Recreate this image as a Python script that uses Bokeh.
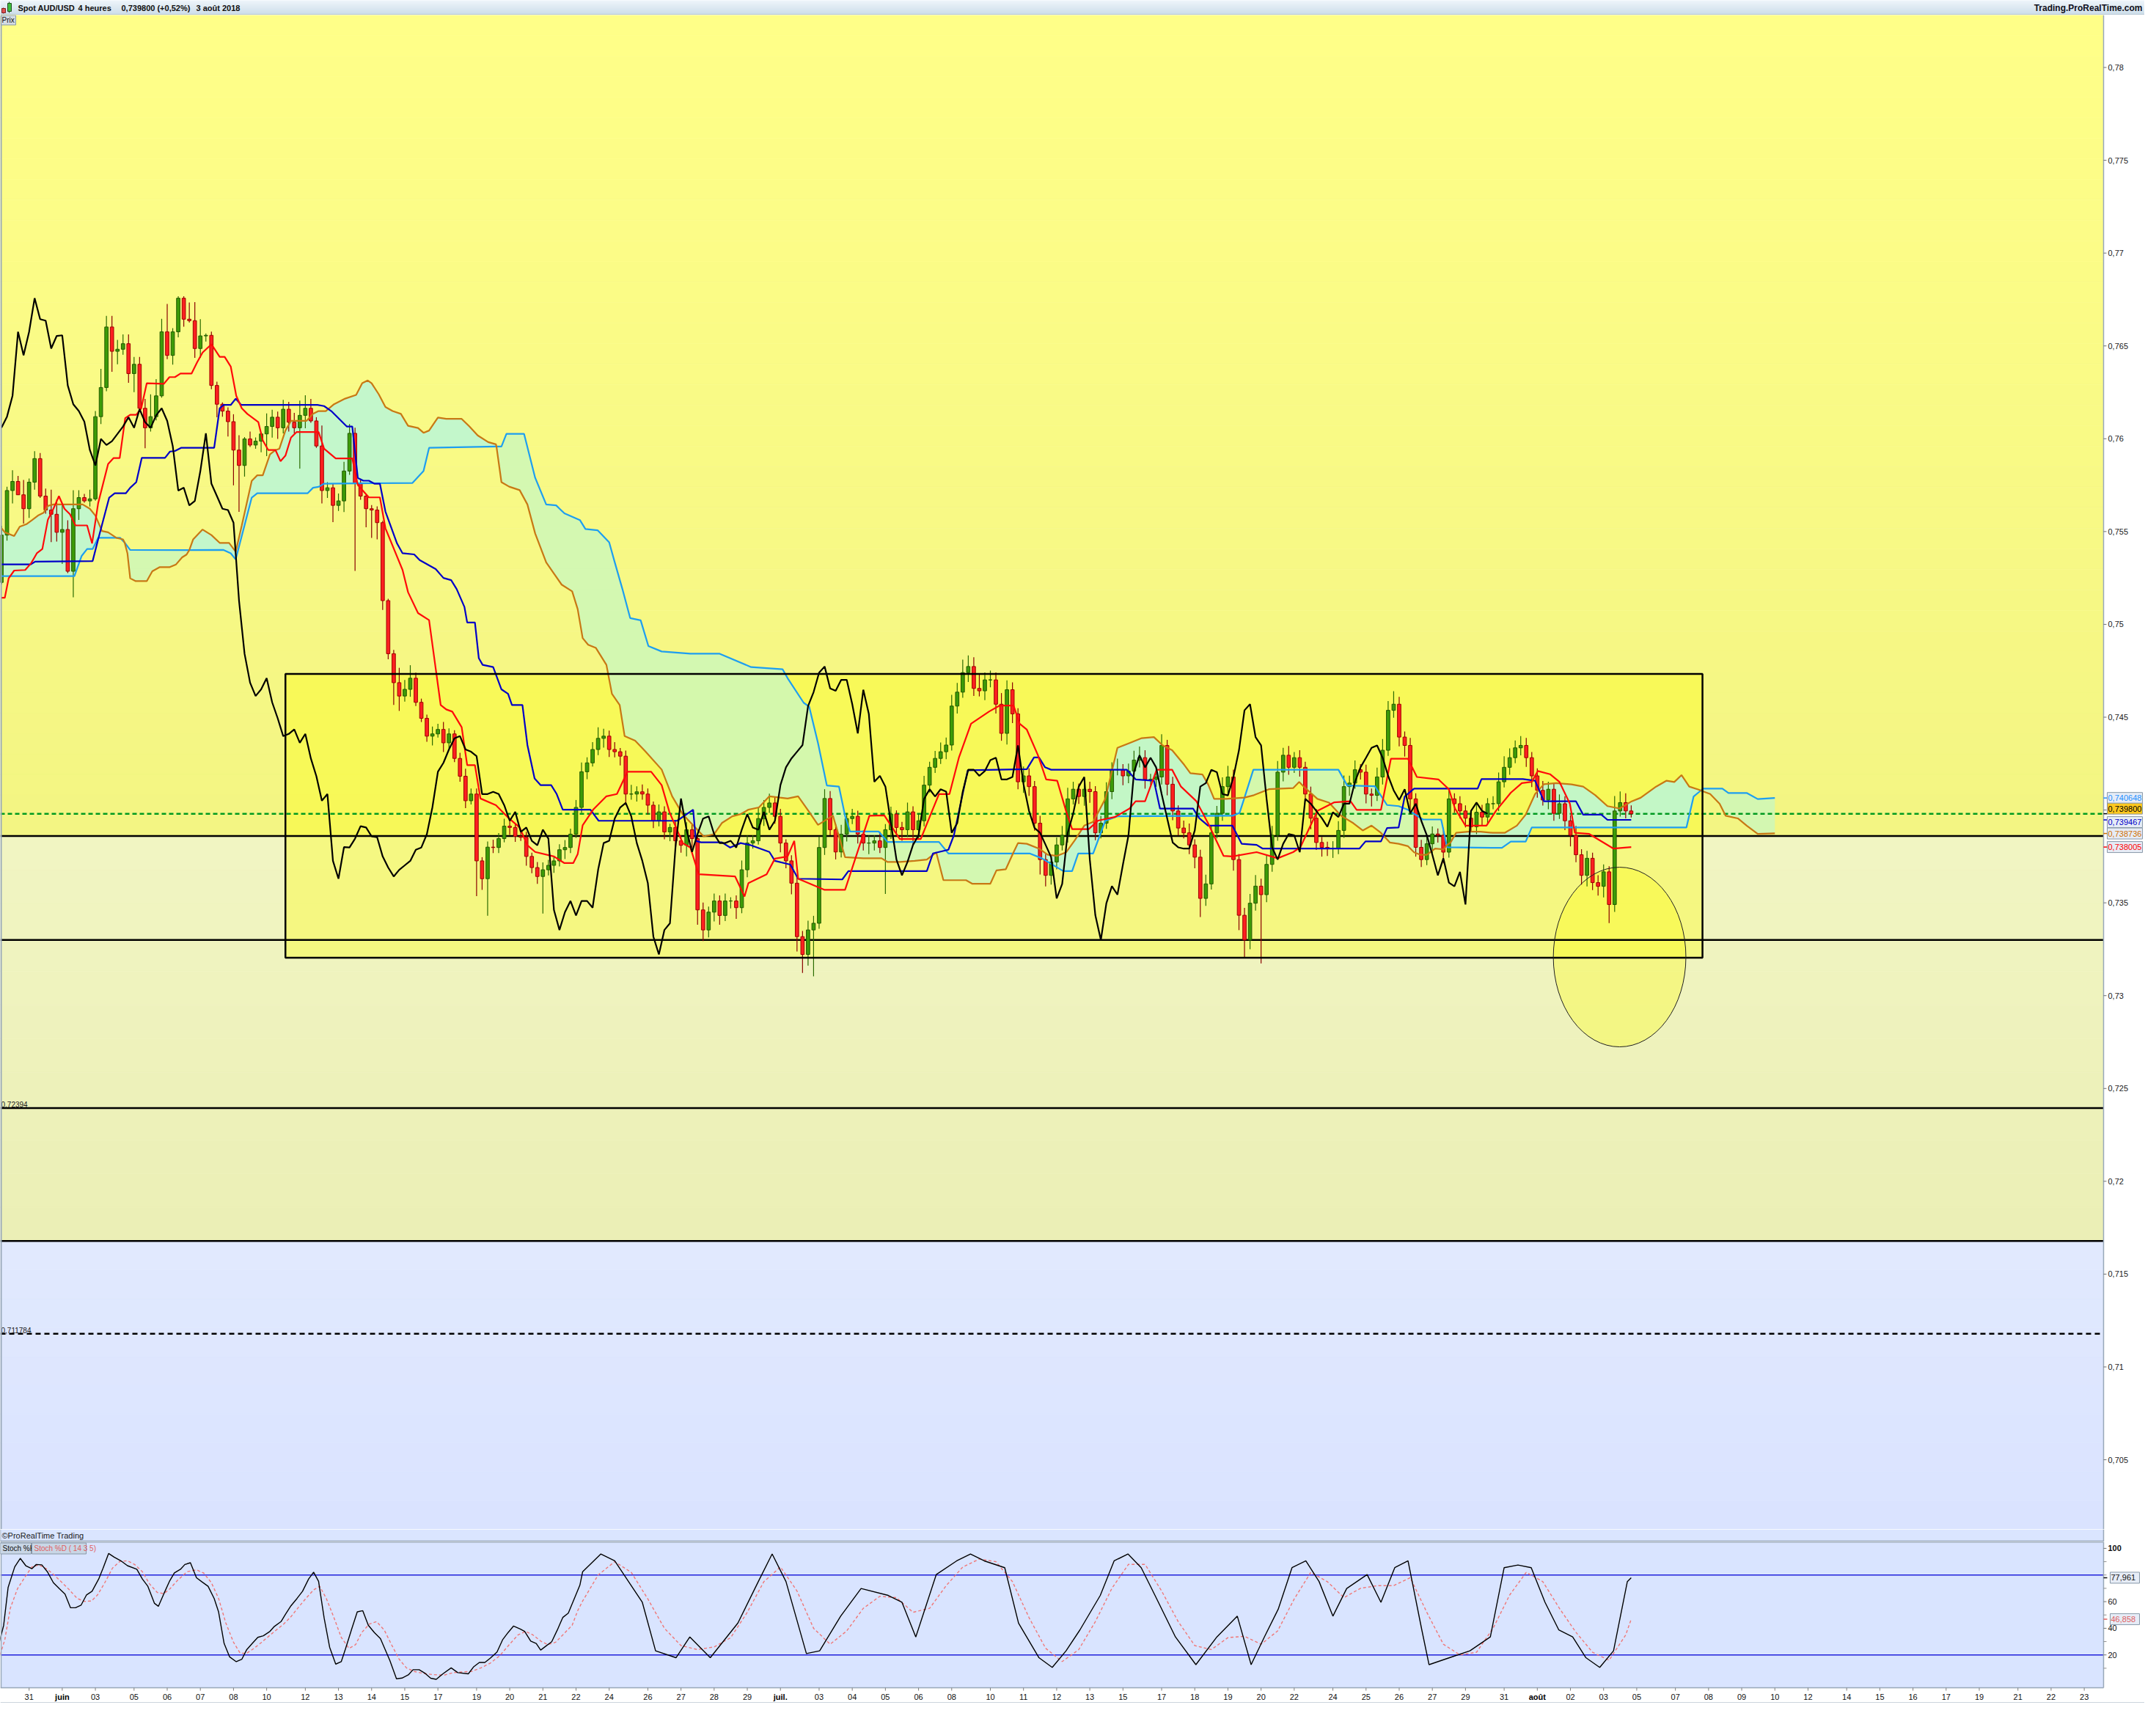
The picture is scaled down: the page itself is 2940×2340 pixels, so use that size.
import numpy as np
from bokeh.plotting import figure
from bokeh.models import Range1d
from bokeh.layouts import column
from bokeh.embed import file_html
from bokeh.resources import INLINE
from bokeh.core.properties import value

# ---------------- DATA ----------------
first_open = 0.75226
closes = [
 .75481,.75721,.75770,.75698,.75623,.75766,.75893,.75691,.75616,.75593,
 .75496,.75511,.75286,.75623,.75683,.75665,.75676,.76119,.76276,.76602,
 .76471,.76482,.76512,.76351,.76401,.76164,.76059,.76119,.76231,.76576,
 .76449,.76576,.76757,.76644,.76636,.76486,.76554,.76557,.76287,.76186,
 .76149,.76092,.75939,.75856,.75999,.75966,.75987,.76026,.76066,.76116,
 .76059,.76159,.76089,.76059,.76126,.76164,.76096,.75961,.75721,.75736,
 .75641,.75665,.75826,.76029,.75758,.75691,.75623,.75616,.75548,.75128,
 .74842,.74686,.74614,.74650,.74710,.74580,.74494,.74398,.74410,.74434,
 .74362,.74410,.74278,.74182,.74050,.74086,.73726,.73630,.73800,.73798,
 .73846,.73913,.73906,.73858,.73853,.73750,.73690,.73642,.73678,.73702,
 .73726,.73786,.73798,.73870,.74014,.74206,.74254,.74326,.74386,.74398,
 .74326,.74314,.74290,.74086,.74086,.74098,.74086,.74026,.73942,.73990,
 .73882,.73906,.73834,.73810,.73894,.73846,.73462,.73354,.73450,.73510,
 .73432,.73510,.73510,.73474,.73678,.73822,.73834,.73954,.74014,.74038,
 .73966,.73822,.73726,.73606,.73318,.73222,.73354,.73390,.73798,.74062,
 .73894,.73774,.73870,.73954,.73966,.73870,.73822,.73822,.73834,.73798,
 .73894,.73978,.73906,.73894,.73990,.73894,.73942,.74134,.74230,.74278,
 .74314,.74350,.74560,.74635,.74740,.74773,.74655,.74642,.74701,.74701,
 .74570,.74413,.74648,.74518,.74152,.74184,.74126,.73929,.73733,.73648,
 .73720,.73812,.73864,.74060,.74112,.74073,.74112,.74099,.73877,.73929,
 .74099,.74217,.74217,.74184,.74210,.74269,.74282,.74165,.74165,.74178,
 .74348,.74139,.73995,.73903,.73877,.73812,.73746,.73524,.73602,.73877,
 .73982,.74126,.74178,.73733,.73433,.73300,.73498,.73590,.73544,.73707,
 .73864,.74204,.74295,.74230,.74282,.74230,.74086,.73956,.73825,.73799,
 .73792,.73792,.73890,.74126,.74145,.74217,.74204,.74086,.74079,.74178,
 .74322,.74537,.74570,.74393,.74348,.74060,.73799,.73733,.73818,.73871,
 .73864,.73773,.74060,.74034,.73995,.73956,.73910,.73988,.73962,.74034,
 .74034,.74152,.74230,.74282,.74335,.74348,.74282,.74184,.74106,.74054,
 .74112,.73982,.74034,.73942,.73864,.73759,.73648,.73740,.73609,.73589,
 .73667,.73491,.73995,.74040,.73995,.73980]

# wick lengths above / below the body, in pips
up_wick = [5,2,6,3,8,2,4,3,4,11, 8,13,5,10,4,2,5,3,10,6, 6,5,5,5,4,4,5,12,9,7,
 15,2,1,1,9,10,9,1,2,2, 1,2,4,8,1,4,2,1,7,4, 3,5,4,5,8,7,5,2,11,3, 2,4,5,5,3,2,1,2,2,1,
 1,2,8,5,7,3,2,2,4,3, 4,3,2,3,4,3,3,2,3,4, 3,4,3,2,4,3,2,3,4,3, 2,3,4,3,4,5,3,4,6,4,
 3,4,2,3,5,3,4,3,2,4, 3,2,4,3,4,3,2,4,3,4, 3,4,2,3,5,4,3,6,4,5, 3,4,2,3,4,3,5,4,6,5,
 4,3,5,3,4,3,2,4,3,5, 3,4,2,3,5,3,4,5,3,4, 5,4,6,5,7,6,5,8,4,5, 4,6,5,4,3,5,4,3,4,3,
 3,4,5,6,4,3,5,4,3,4, 5,4,6,3,4,5,6,4,3,5, 6,3,4,3,4,5,3,4,5,4, 4,5,6,4,3,4,5,6,4,5,
 5,6,4,5,3,4,3,4,5,3, 3,4,5,6,4,5,3,4,3,5, 6,5,7,4,3,4,3,4,5,4, 3,4,5,3,4,3,4,5,4,3,
 4,5,6,5,4,5,4,3,4,5, 4,3,5,4,3,5,3,4,3,4, 4,3,8,6,5,3]
dn_wick = [1,3,7,0,8,5,4,1,2,15, 5,17,1,14,6,1,3,1,4,2, 11,7,3,5,10,2,11,2,2,1,
 2,5,3,4,1,5,5,3,2,7, 3,8,19,25,6,1,2,6,12,6, 6,3,5,3,22,7,1,1,7,4, 9,3,6,2,47,2,10,15,9,5,
 3,12,8,3,4,2,2,3,5,2, 5,3,2,3,4,2,19,6,20,3, 3,2,4,3,2,5,3,4,20,3, 4,3,5,3,2,3,4,2,3,5,
 4,3,5,6,3,4,3,5,4,3, 4,5,3,4,6,5,8,6,4,5, 5,3,4,6,3,4,3,2,4,3, 4,5,4,6,8,10,6,25,3,4,
 3,4,3,4,3,5,4,6,4,3, 25,5,4,6,4,8,5,3,4,3, 3,4,3,4,3,5,4,3,5,4, 5,4,6,5,4,6,5,4,8,6,
 5,4,3,4,3,4,5,6,4,3, 3,4,3,5,4,3,4,5,3,4, 4,6,5,4,3,5,6,10,4,3, 3,4,5,6,8,10,5,4,37,4,
 4,3,5,4,3,5,4,6,4,5, 4,5,3,4,5,3,4,5,6,3, 4,3,4,5,6,8,5,4,3,5, 4,6,3,5,4,5,3,4,5,4,
 3,4,3,4,3,4,5,6,4,3, 5,4,3,5,6,4,5,6,4,5, 6,10,4,3,4,2]

tenkan = [(0,.75143),(0.6,.75143),(1.3,.75248),(2.3,.7529),(4.3,.75293),(5.4,.75331),(6.4,.75383),(7.4,.75406),
 (8.4,.75564),(9.4,.75623),(10.4,.75691),(11.4,.75623),(12.4,.75593),(13.4,.75533),(15.5,.75533),(16.4,.75436),
 (17.5,.75653),(19.3,.75864),(20.3,.75896),(21.4,.75896),(22.4,.76111),(23.3,.76129),(24.4,.76129),(25.3,.76164),
 (26.3,.76299),(29.4,.76296),(30.4,.76332),(31.4,.76332),(32.4,.76351),(34.4,.76351),(35.4,.76411),(36.4,.76464),
 (38,.76509),(39.5,.76441),(40.4,.76441),(41.5,.76389),(42.5,.76231),(43.5,.76164),(44.5,.76134),(46.5,.76089),
 (47.3,.75991),(48.3,.75939),(49.6,.75939),(50.5,.75879),(51.4,.75909),(52.4,.76006),(53.4,.76036),(57.4,.76036),
 (58.4,.75946),(60.5,.75894),(63.5,.75894),(64.5,.75751),(66.5,.75684),(68.5,.75684),(69.5,.75518),(72.6,.75293),
 (73.6,.75173),(75.4,.75061),(77.4,.75023),(79.5,.74566),(80.5,.74542),(81.6,.7453),(83.3,.74446),(84.3,.74242),
 (85.7,.74242),(86.7,.74062),(89.5,.74026),(91.9,.73954),(93.8,.73906),(95.2,.7381),(96.6,.73774),(100,.7375),
 (101.9,.73714),(103.5,.73714),(104.3,.73762),(105.2,.73918),(107.1,.74002),(109.5,.74074),(111.4,.74086),
 (113.3,.74206),(117.6,.74206),(119.5,.74134),(120.9,.7399),(123.3,.73822),(124.7,.73798),(126.2,.73654),
 (132.8,.73642),(134.5,.73534),(135.2,.73606),(138.5,.73654),(140,.73738),(142.3,.7375),(143.5,.73834),
 (144.2,.7363),(149,.7357),(152.7,.7357),(157.1,.73969),(159.8,.73971),(162.6,.73844),(166.4,.73844),
 (168.1,.73969),(169.7,.74086),(171.6,.74086),(173.3,.74282),(175.5,.74465),(178.8,.74531),(180.7,.74563),
 (183.2,.74563),(184.3,.74465),(185.6,.74433),(187.6,.74296),(189.1,.74165),(191.1,.74158),(192.7,.73995),
 (193.8,.73897),(196.8,.73897),(198.5,.73943),(201.5,.73962),(204.2,.74008),(205.3,.74047),(207,.74047),
 (209.1,.74217),(211.9,.74217),(213.5,.74126),(216.3,.74047),(218.4,.73929),(221.2,.73753),(222.8,.7375),
 (227.2,.73773),(231,.7374),(233.8,.73773),(235.1,.73799),(238.2,.73995),(241.2,.74041),(244.2,.74047),
 (245.3,.74001),(249.7,.74001),(251.5,.74276),(254.6,.74276),(256.2,.74178),(260.1,.74165),(262,.74112),
 (263.1,.74008),(265,.73916),(268.8,.73916),(270.5,.73995),(273.2,.74093),(275.2,.74145),(277,.74152),
 (278.1,.7421),(280.3,.74193),(282,.74152),(283.9,.74034),(284.8,.73877),(287.4,.73871),(291.8,.73792),(295,.73800)]

kijun = [(0,.75323),(5.3,.75323),(6.1,.75338),(16.5,.75341),(17.5,.75458),(19.5,.75683),(20.5,.75706),(22.5,.75706),
 (23.3,.75736),(24.4,.75766),(25.4,.75897),(29.6,.75897),(30.5,.75931),(31.4,.75934),(32.5,.75951),(38.5,.75951),
 (39.5,.76164),(40.2,.76182),(41.5,.76182),(42.4,.76216),(43.4,.76182),(57.2,.76182),(58.4,.76176),(59.7,.76149),
 (62.5,.76066),(63.5,.76066),(64.5,.75789),(65.5,.75774),(66.5,.75774),(67.5,.75758),(68.5,.75758),(69.5,.75608),
 (70.6,.75518),(71.6,.75436),(72.6,.75383),(74.7,.75377),(75.7,.75346),(78.6,.75298),(80,.7525),(81.4,.75238),
 (82.4,.7519),(83.8,.75094),(84.3,.7501),(85.7,.7501),(86.4,.74818),(87.1,.74782),(89,.7477),(90.5,.7465),
 (91.7,.74626),(92.4,.74566),(94.3,.74566),(95.2,.7435),(96.5,.7417),(97.6,.74134),(99.5,.74134),(100.5,.74086),
 (101.6,.74002),(106.6,.74002),(108.1,.73942),(122.3,.73942),(125.2,.74002),(125.7,.73834),(126.6,.73826),
 (130.4,.73826),(131.9,.73798),(133.8,.73822),(135.7,.7381),(139,.73774),(140,.73726),(142.8,.73706),
 (144.2,.7363),(152.2,.73626),(153.3,.73671),(167.5,.73671),(168.6,.73766),(171.4,.73786),(172.4,.73864),
 (174.9,.74214),(185.6,.7422),(186.9,.74283),(187.8,.74283),(188.9,.7423),(190,.74217),(203.7,.74217),
 (205.3,.74165),(208.6,.74158),(209.7,.74008),(215.7,.74008),(216.8,.73956),(218.4,.73916),(222.8,.73916),
 (224.5,.73818),(227.2,.73812),(228.3,.73792),(245.8,.73792),(246.9,.73831),(249.7,.73831),(250.8,.73903),
 (252.9,.73906),(254,.74073),(255.7,.74115),(267.2,.74115),(267.9,.74167),(275.4,.74167),(277.6,.74158),
 (279.2,.74047),(285,.74047),(286.3,.73975),(289.6,.73975),(290.7,.73947),(295,.73947)]

senkou_a = [(0,.75518),(0.6,.75496),(2.3,.75476),(3.3,.75526),(4.6,.75541),(5.6,.75563),(6.6,.75586),(7.6,.75601),
 (8.4,.75638),(9.4,.75646),(14.7,.75646),(16,.75623),(17,.75586),(18.2,.75503),(19.3,.75496),(20.8,.75466),
 (22,.75458),(22.3,.7544),(22.8,.75383),(23.3,.75248),(24.3,.75233),(26.3,.75233),(27.3,.75286),(28.6,.75308),
 (30.4,.75308),(31.6,.75323),(32.7,.75361),(33.5,.75376),(34.0,.7540),(34.7,.75458),(36.4,.75511),(38,.75481),
 (39.5,.75439),(41.2,.75439),(42.4,.75391),(43.5,.75533),(45.3,.75773),(46.3,.75803),(47.3,.75803),(48.6,.75916),
 (49.6,.75939),(50.3,.75946),(51.4,.76044),(52.4,.76096),(55.2,.76096),(56.4,.76134),(57.4,.76149),(58.7,.76149),
 (60.2,.76186),(62.2,.76216),(64.2,.76236),(65.3,.76299),(66.3,.76314),(67,.76299),(68.3,.76239),(69.5,.76171),
 (70.8,.76149),(72.3,.76134),(73.6,.7607),(75.4,.76058),(76.4,.76032),(77.4,.76044),(79,.76114),(80.5,.76107),
 (83.3,.76107),(84.7,.76066),(86.2,.76018),(88.1,.75982),(89.5,.7597),(89.6,.75958),(90.5,.75766),(91.9,.75742),
 (93.8,.75723),(95.2,.75646),(96.6,.7549),(98.6,.75334),(100,.75274),(101.4,.75214),(103.3,.75178),(104.3,.75082),
 (105.2,.74926),(106.2,.7489),(107.6,.74873),(109.5,.74782),(110.5,.74626),(111.9,.74566),(112.8,.74398),
 (114.7,.74374),(116.6,.74314),(119.5,.74218),(121.4,.74074),(123.3,.73978),(127.1,.73858),(129,.7387),
 (130.4,.7393),(132.3,.73966),(133.8,.73978),(135.2,.74002),(137.1,.74014),(139,.74074),(142.3,.74062),
 (144.2,.74074),(146.2,.7399),(147.8,.7392),(150.5,.7397),(152.7,.73746),(156,.7374),(159.3,.7374),(160.4,.7372),
 (162.6,.7372),(165.3,.73726),(167.5,.73733),(169.2,.73772),(170.5,.73622),(174.6,.73622),(175.7,.73603),
 (179,.73603),(180.1,.73675),(181.8,.73681),(183.1,.73766),(184,.73822),(185.6,.73818),(187.8,.73792),
 (189.4,.73759),(191.1,.73753),(192.7,.73772),(194.3,.73838),(196,.73916),(197.6,.73936),(199.8,.7406),
 (202,.74335),(204.2,.74361),(206.4,.74387),(208.6,.74393),(210.2,.74348),(211.9,.74322),(214.1,.74243),
 (215.2,.74198),(217.4,.74191),(218.4,.74139),(219.5,.7406),(221.7,.7406),(225,.74067),(226.7,.7408),
 (229.4,.74112),(233.8,.74118),(234.9,.74151),(236,.74118),(238.2,.7406),(240.3,.7404),(242.5,.73969),
 (244.7,.73929),(246.4,.7389),(248,.73916),(249.7,.73877),(251.3,.73825),(252.9,.73818),(254.6,.73805),
 (255.7,.73772),(256.8,.73759),(258,.73759),(259.5,.73792),(261.1,.73788),(261.6,.7381),(262.3,.73825),
 (263.3,.73877),(265.5,.73883),(267.7,.73883),(269.9,.73877),(272.1,.73877),(274.3,.73916),(275.9,.73975),
 (277.6,.74086),(279.2,.74139),(281.4,.74145),(284.2,.74138),(286.3,.74126),(288.5,.7408),(290.7,.74021),
 (292.9,.74008),(295.1,.74047),(296.7,.74066),(299.5,.74126),(301.4,.74158),(302.8,.74151),(304.1,.74188),
 (305.5,.74126),(307.2,.7411),(307.6,.74105),(309.3,.74086),(311,.74034),(312.1,.73969),(314.3,.73955),
 (315.9,.73916),(317.9,.73871),(321,.73874)]

senkou_b = [(0,.7526),(13.2,.7526),(14.5,.75368),(15.5,.75406),(16.5,.75406),(17.5,.75466),(21.5,.75466),
 (22.3,.7544),(23.3,.75401),(34.0,.7540),(40.2,.75401),(41.5,.75383),(42.4,.7535),(45.3,.75683),(46.3,.75706),
 (55.4,.75706),(56.4,.75736),(57.4,.75741),(58.4,.75758),(74.4,.75762),(76.4,.75826),(77.4,.75951),(89.6,.75958),
 (90.5,.75958),(91.4,.76026),(94.6,.76026),(96.6,.7579),(98.6,.75646),(100.4,.75641),(101.9,.75598),
 (104.7,.75562),(105.7,.75514),(107.9,.75507),(110,.75442),(110.9,.75346),(112.4,.7519),(113.8,.75034),
 (115.7,.75022),(117.1,.74883),(119.5,.74854),(124.7,.74842),(130,.74842),(135.7,.7477),(141.4,.74758),
 (142.3,.7471),(145.2,.74578),(146.2,.74557),(147.8,.74361),(149.4,.74132),(151.6,.74126),(152.7,.73969),
 (153.6,.73884),(158.8,.73884),(160.4,.73828),(169.7,.73828),(171.4,.73766),(183.1,.73766),(186.1,.73766),
 (188.3,.7374),(192.2,.73671),(193.8,.73671),(194.9,.73766),(197.6,.73766),(199.8,.73942),(202,.73966),
 (222.8,.73969),(224.1,.73984),(225,.74067),(226.6,.74217),(242,.74217),(243.6,.74132),(248.6,.74128),
 (250.8,.74027),(252.9,.74021),(254.6,.74001),(257.3,.73949),(260.6,.73949),(261.6,.7381),(261.7,.73799),
 (271.6,.73796),(273.2,.7383),(275.9,.7383),(277,.73906),(305,.73906),(306.3,.74073),(307.6,.74105),
 (308,.74115),(311.5,.74115),(312.6,.74092),(315.9,.74092),(317.9,.74059),(321,.74065)]

# where the two cloud lines cross, and which one is on top in between
cloud_cross = [0, 22.3, 34.0, 89.6, 183.1, 225.0, 261.6, 307.6, 321]
cloud_a_on_top = [True, False, True, False, True, False, True, False]

stoch_k = [(-0.5,27.7),(0.4,42.3),(1.2,70.6),(2.4,86.1),(3.4,92.5),(4.4,87.0),(5.5,84.7),(6.3,87.9),(7.3,87.6),
 (8.3,82.5),(9.4,74.2),(10.5,69.7),(11.5,65.7),(12.5,55.4),(13.4,55.4),(14.4,57.3),(15.4,65.1),(16.4,67.8),
 (17.6,77.0),(18.4,85.2),(19.4,96.2),(20.4,93.4),(21.6,90.7),(22.8,87.0),(24.5,84.3),(25.5,77.0),(26.5,71.5),
 (27.7,58.7),(28.4,56.5),(29.4,66.0),(30.4,75.2),(31.3,81.6),(32.4,84.3),(33.2,87.9),(34.2,89.2),(35.3,77.9),
 (36.3,74.8),(37.4,71.5),(38.5,62.4),(39.3,52.3),(40.3,28.6),(41.3,18.5),(42.5,14.9),(43.5,16.7),(44.4,24.0),
 (45.4,28.6),(46.4,33.2),(47.4,34.4),(48.6,37.7),(49.4,41.4),(50.6,45.0),(51.4,50.5),(52.4,56.9),(53.5,62.4),
 (54.5,67.8),(55.6,77.0),(56.5,82.1),(57.4,75.2),(58.4,47.8),(59.4,25.8),(60.5,13.1),(61.5,14.9),(62.3,24.9),
 (63.4,39.5),(64.4,52.3),(65.4,53.2),(66.4,42.3),(67.5,36.8),(68.6,32.2),(70.3,15.8),(71.5,2.1),(72.5,2.6),
 (73.7,5.2),(74.5,8.9),(75.6,8.9),(76.7,6.1),(77.7,2.5),(78.7,1.7),(79.9,5.8),(81.4,10.3),(82.6,6.7),(84.5,5.8),
 (85.5,11.2),(86.5,14.3),(87.5,14.3),(88.5,17.6),(89.7,22.2),(90.7,31.3),(91.7,36.8),(92.7,41.7),(93.9,39.5),
 (94.7,37.7),(95.8,30.4),(96.8,28.6),(97.6,23.6),(98.6,26.8),(99.6,29.9),(100.6,38.6),(101.6,48.1),(102.6,51.4),
 (103.7,62.4),(104.7,72.4),(105.2,82.5),(108.5,95.8),(111,90.6),(116,59.5),(118.4,23.1),(122.1,17.9),
 (124.6,33.5),(128.3,17.9),(133.3,43.9),(137,75.1),(139.5,95.8),(142,75.1),(145.7,21.0),(148.1,23.1),
 (151.9,49.1),(155.6,69.9),(160.5,64.7),(163,59.5),(165.5,33.5),(169.2,80.3),(172.9,90.6),(175.4,95.8),
 (177.9,90.6),(181.6,85.5),(184.1,43.9),(187.8,17.9),(190.2,10.6),(192.7,23.1),(195.2,38.7),(198.9,64.7),
 (201.4,90.6),(203.9,95.8),(206.3,85.5),(208.8,64.7),(212.5,33.5),(216.2,12.7),(220,33.5),(223.7,49.1),
 (226.2,12.7),(228.6,33.5),(231.1,54.3),(233.6,85.5),(236.1,90.6),(238.5,75.1),(241,49.1),(243.5,69.9),
 (247.2,80.3),(249.7,59.5),(252.2,85.5),(254.6,90.6),(257.1,38.7),(258.4,12.7),(262.1,17.9),(265.8,23.1),
 (269.5,33.5),(272,85.5),(274.5,87.5),(276.9,85.5),(279.4,59.5),(281.9,38.7),(284.4,33.5),(286.8,17.9),
 (289.3,10.6),(291.8,23.1),(294.3,75.1),(295,77.961)]

stoch_d = [(-0.5,16.7),(0.6,31.3),(1.6,55.1),(2.9,69.7),(4.3,78.8),(5.5,86.1),(6.8,87.6),(8.3,84.3),(9.6,79.7),
 (11,74.2),(12.3,68.8),(13.7,62.4),(15,60.2),(16.3,60.5),(17.4,65.1),(18.7,74.2),(20.1,85.2),(21.4,90.1),
 (22.8,90.7),(24.1,87.9),(25.5,82.5),(26.8,73.3),(28.2,66.9),(29.4,66.0),(30.5,69.7),(31.9,76.1),(33.6,82.5),
 (35.3,83.9),(36.6,81.5),(38,74.2),(39.3,62.4),(40.6,44.1),(42,29.5),(43.2,21.3),(44.4,21.3),(45.7,24.9),
 (47.1,29.5),(48.4,34.1),(49.7,38.6),(51.1,43.2),(52.4,48.7),(53.8,56.0),(55.1,62.4),(56.5,68.8),(57.6,71.5),
 (58.8,62.4),(60.2,47.8),(61.5,33.2),(62.9,24.9),(64.1,27.7),(65.2,36.8),(66.6,43.2),(67.9,45.0),(69.3,38.6),
 (70.6,27.7),(72,16.7),(73.3,10.3),(74.7,7.6),(76.4,6.1),(78.1,5.2),(80.1,4.8),(81.8,6.7),(83.4,7.2),(85.1,7.6),
 (86.8,10.3),(88.5,13.9),(90.2,19.4),(91.9,27.7),(93.5,35.0),(94.9,37.7),(96.2,35.0),(97.6,30.4),(98.9,27.7),
 (100.3,29.5),(101.6,35.0),(103.3,42.3),(104.3,53.2),(105.2,60.5),(108,80),(111,90),(114,82),(117,62),(120,40),
 (123,27),(126,24),(129,26),(132,33),(135,52),(138,75),(141,86),(144,68),(147,40),(150,28),(153,38),(156,55),
 (159,64),(162,63),(165,52),(168,55),(171,72),(174,86),(177,92),(180,90),(183,75),(186,48),(189,25),(192,15),
 (195,24),(198,45),(201,70),(204,88),(207,88),(210,68),(213,45),(216,27),(219,24),(222,33),(225,34),(228,28),
 (231,38),(234,62),(237,82),(240,75),(243,63),(246,70),(249,72),(252,72),(255,78),(258,52),(261,28),(264,20),
 (267,22),(270,40),(273,65),(276,82),(279,75),(282,55),(285,37),(288,22),(291,16),(294,35),(295,46.858)]

date_tick_idx = [5,11,17,24,30,36,42,48,55,61,67,73,79,86,92,98,104,110,117,123,129,135,141,148,154,160,166,
 172,179,185,191,197,203,210,216,222,228,234,241,247,253,259,265,272,278,284,290,296,303,309,315,321,327,334,
 340,346,352,358,365,371,377]
date_labels = ["31","juin","03","05","06","07","08","10","12","13","14","15","17","19","20","21","22","24","26",
 "27","28","29","juil.","03","04","05","06","08","10","11","12","13","15","17","18","19","20","22","24","25",
 "26","27","29","31","août","02","03","05","07","08","09","10","12","14","15","16","17","19","21","22","23"]
month_labels = {"juin", "juil.", "août"}

price_ticks = [0.705,0.71,0.715,0.72,0.725,0.73,0.735,0.74,0.745,0.75,0.755,0.76,0.765,0.77,0.775,0.78]
stoch_major = [20, 40, 60, 100]
stoch_minor = [10, 30, 50, 70, 80, 90]
zone_top = 0.7386      # black line: yellow zone above
zone_mid = 0.7330      # black line
level_1 = 0.72394
zone_low = 0.71678     # black line: blue zone below
level_2 = 0.711784     # dashed
last_price = 0.7398
box_rect = dict(left=51.4, right=307.9, bottom=0.73204, top=0.74733)
circle = dict(x=292.9, y=0.73208, w=24.0, h=0.00969)
tags = [("0,740648", 0.740648, "#1E90FF", "#E6ECF6", 0), ("0,739800", 0.7398, "#000000", "#FFC81E", 7),
        ("0,739467", 0.739467, "#0000C8", "#E6ECF6", -3), ("0,738736", 0.738736, "#D07000", "#E6ECF6", 0),
        ("0,738005", 0.738005, "#FF0000", "#E6ECF6", 0)]
stoch_tags = [("77,961", 77.961, "#101010"), ("46,858", 46.858, "#E06060")]

# ---------------- GEOMETRY / STYLE ----------------
FONT = "Liberation Sans"
NARROW = "'Liberation Sans Narrow', 'Liberation Sans', sans-serif"
PW = 2868            # plot area width (px)
AXW = 56             # right axis area (px)
TW = PW + AXW
X0, X1 = -0.2, 380.5
BPX = PW / (X1 - X0)
XE = X1 + AXW / BPX
def dx(px):
    return px / BPX

MH = 2065
YB, YT = 0.70125, 0.782824
def dym(px):
    return px * (YT - YB) / MH

SH = 199             # stoch plot height
DB = 21              # date band height
SB, ST = -4.66, 104.9
SUPX = (ST - SB) / SH
SBE = SB - DB * SUPX
def dys(px):
    return px * SUPX

AXC = "#98A8B8"

def mix(c0, c1, t):
    a = [int(c0[i:i + 2], 16) for i in (1, 3, 5)]
    b = [int(c1[i:i + 2], 16) for i in (1, 3, 5)]
    return "#%02x%02x%02x" % tuple(int(round(a[k] + (b[k] - a[k]) * t)) for k in range(3))

def gradient(fig, y0, y1, c_top, c_bot, n, x0, x1):
    bots, tops, cols = [], [], []
    for k in range(n):
        tops.append(y1 - k * (y1 - y0) / n)
        bots.append(y1 - (k + 1) * (y1 - y0) / n)
        cols.append(mix(c_top, c_bot, (k + 0.5) / n))
    fig.quad(left=[x0] * n, right=[x1] * n, bottom=bots, top=tops, fill_color=cols, line_color=cols, line_width=0.6)

def txt(fig, x, y, t, size="11px", color="#202020", align="left", base="middle", style="normal", font=FONT):
    fig.text(x=x if isinstance(x, list) else [x], y=y if isinstance(y, list) else [y],
             text=t if isinstance(t, list) else [t], text_font=value(font), text_font_size=size,
             text_color=color, text_align=align, text_baseline=base, text_font_style=style)

def bare(fig):
    fig.axis.visible = False
    fig.grid.visible = False

# ---------------- HEADER ----------------
hdr = figure(frame_width=TW, frame_height=20, min_border=0, x_range=Range1d(0, TW), y_range=Range1d(0, 20),
             output_backend="svg", toolbar_location=None, outline_line_color=None,
             x_axis_location=None, y_axis_location=None)
bare(hdr)
gradient(hdr, 0, 20, "#EEF5FB", "#CBDCE8", 10, 0, TW)
hdr.segment(x0=[4, 12], y0=[2, 3], x1=[4, 12], y1=[10, 18], line_color=["#802020", "#205020"], line_width=1)
hdr.quad(left=[2, 10], right=[7, 15], bottom=[3, 5], top=[9, 16], fill_color=["#E05050", "#40C040"],
         line_color=["#802020", "#205020"])
for x, t in [(24, "Spot AUD/USD"), (106, "4 heures"), (165, "0,739800 (+0,52%)"), (267, "3 août 2018")]:
    txt(hdr, x, 10, t, size="11px", color="#101010", style="bold")
txt(hdr, TW - 3, 10, "Trading.ProRealTime.com", size="12px", color="#101020", align="right", style="bold")
hdr.segment(x0=[0], y0=[0.4], x1=[TW], y1=[0.4], line_color=AXC, line_width=1)

# ---------------- MAIN PRICE PANEL ----------------
p = figure(frame_width=TW, frame_height=MH, min_border=0, x_range=Range1d(X0, XE), y_range=Range1d(YB, YT),
           x_axis_location=None, y_axis_location=None, output_backend="svg", toolbar_location=None,
           outline_line_color=None, background_fill_color="white")
bare(p)
gradient(p, zone_top, YT, "#FFFF88", "#F3F583", 40, X0, X1)
gradient(p, zone_low, zone_top, "#F1F5C3", "#EBEFB5", 12, X0, X1)
gradient(p, YB, zone_low, "#E1E9FE", "#DAE3FF", 10, X0, X1)

# highlighted rectangle and circle (fills)
p.quad(left=[box_rect["left"]], right=[box_rect["right"]], bottom=[box_rect["bottom"]], top=[box_rect["top"]],
       fill_color="#FFFF00", fill_alpha=0.33, line_color=None)
p.ellipse(x=[circle["x"]], y=[circle["y"]], width=[circle["w"]], height=[circle["h"]],
          fill_color="#FFFF00", fill_alpha=0.30, line_color=None)

# Ichimoku cloud
ax = [v[0] for v in senkou_a]; ay = [v[1] for v in senkou_a]
bx = [v[0] for v in senkou_b]; by = [v[1] for v in senkou_b]
xs_list, ys_list, cols = [], [], []
for k in range(len(cloud_cross) - 1):
    c0, c1 = cloud_cross[k], cloud_cross[k + 1]
    pa = [(x, y) for x, y in zip(ax, ay) if c0 <= x <= c1]
    pb = [(x, y) for x, y in zip(bx, by) if c0 <= x <= c1][::-1]
    poly = pa + pb
    xs_list.append([q[0] for q in poly]); ys_list.append([q[1] for q in poly])
    cols.append("#BDF6D3" if cloud_a_on_top[k] else "#CFF7B6")
p.patches(xs=xs_list, ys=ys_list, fill_color=cols, fill_alpha=0.9, line_color=None)

# horizontal levels
lv = [zone_top, zone_mid, level_1, zone_low]
p.segment(x0=[X0] * 4, y0=lv, x1=[X1] * 4, y1=lv, line_color="black", line_width=2.5)
p.segment(x0=[X0], y0=[level_2], x1=[X1], y1=[level_2], line_color="black", line_width=2.5, line_dash="7 5")
p.segment(x0=[X0], y0=[last_price], x1=[X1], y1=[last_price], line_color="#009A20", line_width=2.5, line_dash="6 4")
txt(p, X0 + dx(1), level_1 + dym(1), "0,72394", size="10px", base="bottom")
txt(p, X0 + dx(1), level_2 + dym(1), "0,711784", size="10px", base="bottom")

# candles
idx = np.arange(len(closes))
opens = [first_open] + closes[:-1]
highs = [max(o, c) + u * 1e-4 for o, c, u in zip(opens, closes, up_wick)]
lows = [min(o, c) - d * 1e-4 for o, c, d in zip(opens, closes, dn_wick)]
up = [c >= o for o, c in zip(opens, closes)]
wick_col = ["#2A6A00" if u else "#8A0000" for u in up]
body_col = ["#3C9B08" if u else "#FF2020" for u in up]
edge_col = ["#235A00" if u else "#A00000" for u in up]
p.segment(x0=idx, y0=lows, x1=idx, y1=highs, line_color=wick_col, line_width=1.2)
p.vbar(x=idx, width=0.62, bottom=[min(o, c) for o, c in zip(opens, closes)],
       top=[max(o, c) for o, c in zip(opens, closes)], fill_color=body_col, line_color=edge_col, line_width=1)

# Ichimoku lines
p.line([v[0] for v in senkou_b], [v[1] for v in senkou_b], line_color="#1E9EF0", line_width=2.2)
p.line([v[0] for v in senkou_a], [v[1] for v in senkou_a], line_color="#C87814", line_width=2.2)
p.line([v[0] for v in kijun], [v[1] for v in kijun], line_color="#0000C8", line_width=2.2)
p.line([v[0] for v in tenkan], [v[1] for v in tenkan], line_color="#FF0A0A", line_width=2.2)
p.line(list(idx[26:] - 26), closes[26:], line_color="#000000", line_width=2.2)

# outlines of drawings
p.quad(left=[box_rect["left"]], right=[box_rect["right"]], bottom=[box_rect["bottom"]], top=[box_rect["top"]],
       fill_color=None, line_color="black", line_width=2.5)
p.ellipse(x=[circle["x"]], y=[circle["y"]], width=[circle["w"]], height=[circle["h"]],
          fill_color=None, line_color="#202020", line_width=1)

# right price axis (drawn in the white strip)
p.quad(left=[X1], right=[XE], bottom=[YB], top=[YT], fill_color="white", line_color=None)
p.segment(x0=[X1], y0=[YB], x1=[X1], y1=[YT], line_color=AXC, line_width=1.5)
p.segment(x0=[X0 + dx(1)], y0=[YB], x1=[X0 + dx(1)], y1=[YT], line_color=AXC, line_width=2)
n = len(price_ticks)
p.segment(x0=[X1] * n, y0=price_ticks, x1=[X1 + dx(4)] * n, y1=price_ticks, line_color="#707070", line_width=1)
ptxt = [("%.3f" % t).rstrip("0").replace(".", ",") for t in price_ticks]
txt(p, [X1 + dx(6)] * n, price_ticks, ptxt, size="11px", color="#202020")
for t, yv, tc, bg, off in tags:
    p.segment(x0=[X1], y0=[yv], x1=[X1 + dx(5)], y1=[yv], line_color=tc, line_width=1.5)
    p.rect(x=[X1 + dx(29)], y=[yv + dym(off)], width=[48], height=[15], width_units="screen",
           height_units="screen", fill_color=bg, line_color="#8898A8")
    txt(p, X1 + dx(6), yv + dym(off), t, size="11px", color=tc)

# "Prix" button
p.rect(x=[X0 + dx(11)], y=[YT - dym(7)], width=[20], height=[13], width_units="screen", height_units="screen",
       fill_color="#D4DCE4", line_color="#8898A8")
txt(p, X0 + dx(2), YT - dym(7), "Prix", size="10px", color="#101010")

# ---------------- STOCH HEADER ----------------
sh = figure(frame_width=TW, frame_height=17, min_border=0, x_range=Range1d(0, TW), y_range=Range1d(0, 17),
            output_backend="svg", toolbar_location=None, outline_line_color=None,
            x_axis_location=None, y_axis_location=None, background_fill_color="white")
bare(sh)
sh.quad(left=[0], right=[PW], bottom=[0], top=[17], fill_color="#DAE5FF", line_color=None)
sh.segment(x0=[0, 0, PW], y0=[1, 0, 0], x1=[PW, 0, PW], y1=[1, 17, 17], line_color=AXC, line_width=1.5)
txt(sh, 2, 9, "©ProRealTime Trading", size="11px", color="#202020")

# ---------------- STOCHASTIC PANEL ----------------
s = figure(frame_width=TW, frame_height=SH + DB, min_border=0, x_range=Range1d(X0, XE), y_range=Range1d(SBE, ST),
           x_axis_location=None, y_axis_location=None, output_backend="svg", toolbar_location=None,
           outline_line_color=None, background_fill_color="white")
bare(s)
s.quad(left=[X0], right=[X1], bottom=[SB], top=[ST], fill_color="#D9E4FF", line_color=None)
s.segment(x0=[X0, X0], y0=[80, 20], x1=[X1, X1], y1=[80, 20], line_color="#2020DC", line_width=1.5)
s.line([v[0] for v in stoch_d], [v[1] for v in stoch_d], line_color="#F07878", line_width=1.4, line_dash="4 3")
s.line([v[0] for v in stoch_k], [v[1] for v in stoch_k], line_color="#000000", line_width=1.4)
# frame
s.segment(x0=[X0, X0, X0 + dx(1), X1], y0=[ST - dys(0.5), SB, SB, SB], x1=[X1, X1, X0 + dx(1), X1],
          y1=[ST - dys(0.5), SB, ST, ST], line_color=AXC, line_width=1.5)
# right axis
s.segment(x0=[X1] * 4, y0=stoch_major, x1=[X1 + dx(4)] * 4, y1=stoch_major, line_color="#707070")
s.segment(x0=[X1] * 6, y0=stoch_minor, x1=[X1 + dx(4)] * 6, y1=stoch_minor, line_color="#909090")
for v in stoch_major:
    txt(s, X1 + dx(6), v, str(v), size="11px", style="bold" if v == 100 else "normal", color="#101010")
for t, yv, tc in stoch_tags:
    s.segment(x0=[X1], y0=[yv], x1=[X1 + dx(5)], y1=[yv], line_color=tc, line_width=1.5)
    s.rect(x=[X1 + dx(29)], y=[yv], width=[40], height=[15], width_units="screen", height_units="screen",
           fill_color="#E6ECF6", line_color="#8898A8")
    txt(s, X1 + dx(10), yv, t, size="11px", color=tc)
# date axis
nt = len(date_tick_idx)
s.segment(x0=date_tick_idx, y0=[SB] * nt, x1=date_tick_idx, y1=[SB - dys(4)] * nt, line_color="#808080")
norm_x = [t for t, l in zip(date_tick_idx, date_labels) if l not in month_labels]
norm_l = [l for l in date_labels if l not in month_labels]
mon_x = [t for t, l in zip(date_tick_idx, date_labels) if l in month_labels]
mon_l = [l for l in date_labels if l in month_labels]
txt(s, norm_x, [SB - dys(12)] * len(norm_x), norm_l, size="11px", align="center", font=NARROW, color="#101010")
txt(s, mon_x, [SB - dys(12)] * len(mon_x), mon_l, size="11px", align="center", font=NARROW, style="bold",
    color="#000000")
s.segment(x0=[X0], y0=[SBE + dys(0.5)], x1=[XE], y1=[SBE + dys(0.5)], line_color=AXC, line_width=1)
# legend boxes
s.rect(x=[X0 + dx(21)], y=[ST - dys(9)], width=[42], height=[15], width_units="screen", height_units="screen",
       fill_color="#C8D6E6", line_color="#8898A8")
txt(s, X0 + dx(3), ST - dys(9), "Stoch %K", size="10px", font=NARROW, color="#101010")
s.rect(x=[X0 + dx(80)], y=[ST - dys(9)], width=[74], height=[15], width_units="screen", height_units="screen",
       fill_color="#C8D6E6", line_color="#8898A8")
txt(s, X0 + dx(46), ST - dys(9), "Stoch %D ( 14 3 5)", size="10px", font=NARROW, color="#E06060")

layout = column(hdr, p, sh, s, spacing=0)
open("out.html", "w").write(file_html(layout, INLINE))
